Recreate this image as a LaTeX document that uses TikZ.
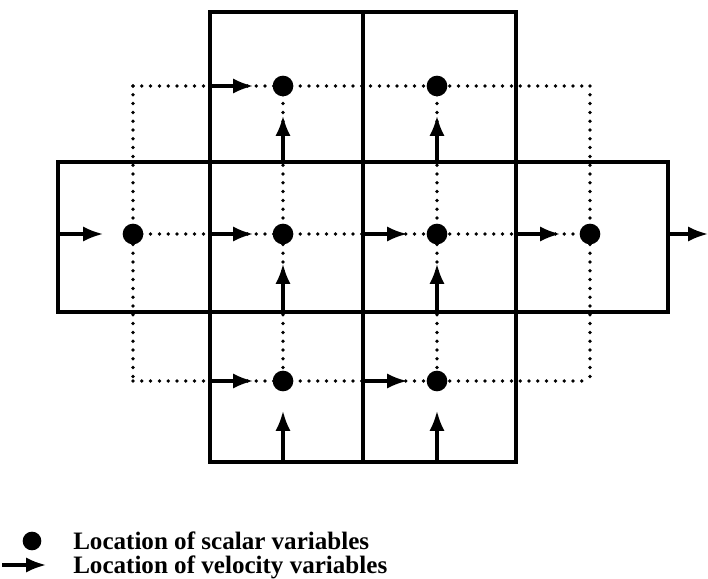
\documentclass[tikz,border=0pt]{standalone}
\usepackage{fontspec}
\setmainfont{Liberation Serif}
\usetikzlibrary{arrows.meta}
\begin{document}
\begin{tikzpicture}[x=0.75pt,y=-0.75pt,
  wall/.style={line width=2.3pt, line join=miter},
  link/.style={line width=2.8pt, line cap=round, dash pattern=on 0pt off 6.6pt},
  scalar/.style={circle, fill=black, inner sep=0pt, minimum size=15.5pt},
  vel/.style={line width=2.3pt, -{Latex[length=15pt,width=11.5pt]}, shorten >=14.5pt},
  velfree/.style={line width=2.3pt, -{Latex[length=15pt,width=11.5pt]}},
  legend/.style={font=\bfseries\fontsize{18.8}{22}\selectfont, anchor=base west, inner sep=0pt}]
\useasboundingbox (0,0) rectangle (708,579);

% control volumes
\draw[wall] (210,12) rectangle (363,162);
\draw[wall] (363,12) rectangle (516,162);
\draw[wall] (58,162) rectangle (210,312);
\draw[wall] (210,162) rectangle (363,312);
\draw[wall] (363,162) rectangle (516,312);
\draw[wall] (516,162) rectangle (668,312);
\draw[wall] (210,312) rectangle (363,462);
\draw[wall] (363,312) rectangle (516,462);

% cell centres
\coordinate (A1) at (133,86);  \coordinate (B1) at (283,86);
\coordinate (C1) at (437,86);  \coordinate (D1) at (590,86);
\coordinate (A2) at (133,234); \coordinate (B2) at (283,234);
\coordinate (C2) at (437,234); \coordinate (D2) at (590,234);
\coordinate (A3) at (133,381); \coordinate (B3) at (283,381);
\coordinate (C3) at (437,381); \coordinate (D3) at (590,381);

% dotted links between centres
\draw[link] (A1) -- (D1);
\draw[link] (A2) -- (D2);
\draw[link] (A3) -- (D3);
\draw[link] (A1) -- (A3);
\draw[link] (B1) -- (B3);
\draw[link] (C1) -- (C3);
\draw[link] (D1) -- (D3);

% scalar nodes
\node[scalar] (sB1) at (B1) {};
\node[scalar] (sC1) at (C1) {};
\node[scalar] (sA2) at (A2) {};
\node[scalar] (sB2) at (B2) {};
\node[scalar] (sC2) at (C2) {};
\node[scalar] (sD2) at (D2) {};
\node[scalar] (sB3) at (B3) {};
\node[scalar] (sC3) at (C3) {};

% face points carrying velocities
\coordinate (uB1) at (210,86);
\coordinate (uA2) at (58,234);
\coordinate (uB2) at (210,234);
\coordinate (uC2) at (363,234);
\coordinate (uD2) at (516,234);
\coordinate (uE2) at (668,234);
\coordinate (uOut) at (708,234);
\coordinate (uB3) at (210,381);
\coordinate (uC3) at (363,381);
\coordinate (vB1) at (283,162);
\coordinate (vC1) at (437,162);
\coordinate (vB2) at (283,312);
\coordinate (vC2) at (437,312);
\coordinate (vB3) at (283,462);
\coordinate (vC3) at (437,462);

% velocity arrows
\draw[vel] (uB1) -- (sB1);
\draw[vel] (uA2) -- (sA2);
\draw[vel] (uB2) -- (sB2);
\draw[vel] (uC2) -- (sC2);
\draw[vel] (uD2) -- (sD2);
\draw[velfree] (uE2) -- (uOut);
\draw[vel] (uB3) -- (sB3);
\draw[vel] (uC3) -- (sC3);
\draw[vel] (vB1) -- (sB1);
\draw[vel] (vC1) -- (sC1);
\draw[vel] (vB2) -- (sB2);
\draw[vel] (vC2) -- (sC2);
\draw[vel] (vB3) -- (sB3);
\draw[vel] (vC3) -- (sC3);

% legend
\node[scalar, minimum size=14pt] (keyDot) at (32,541) {};
\coordinate (keyTail) at (2,565);
\coordinate (keyHead) at (46,565);
\draw[velfree] (keyTail) -- (keyHead);
\node[legend] (keyScalar) at (73,549) {Location of scalar variables};
\node[legend] (keyVel) at (73,573) {Location of velocity variables};
\end{tikzpicture}
\end{document}
